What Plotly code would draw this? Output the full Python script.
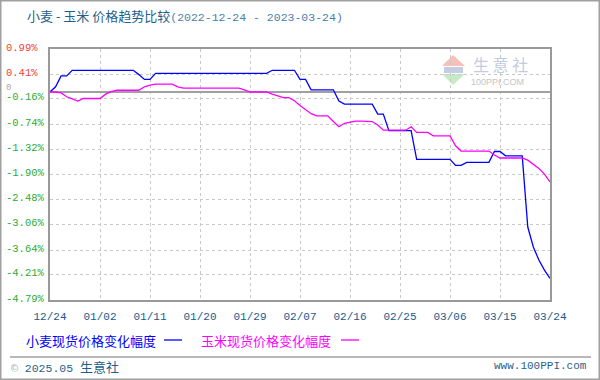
import pandas as pd
import plotly.graph_objects as go

start_date = "2022-12-24"
wheat = [0, 0.12, 0.37, 0.37, 0.50, 0.50, 0.50, 0.50, 0.50, 0.50,
         0.50, 0.50, 0.50, 0.50, 0.50, 0.50, 0.40, 0.29, 0.29, 0.43,
         0.43, 0.43, 0.43, 0.43, 0.43, 0.43, 0.43, 0.43, 0.43, 0.43,
         0.43, 0.43, 0.43, 0.43, 0.43, 0.43, 0.43, 0.43, 0.43, 0.43,
         0.50, 0.50, 0.50, 0.50, 0.50, 0.29, 0.29, 0.05, 0.05, 0.05,
         0.05, 0.05, -0.21, -0.28, -0.28, -0.28, -0.28, -0.28, -0.28, -0.51,
         -0.51, -0.89, -0.89, -0.89, -0.89, -0.89, -1.55, -1.55, -1.55, -1.55,
         -1.55, -1.55, -1.55, -1.69, -1.69, -1.62, -1.62, -1.62, -1.62, -1.62,
         -1.37, -1.37, -1.47, -1.47, -1.47, -1.47, -3.11, -3.57, -3.87, -4.10,
         -4.29]
corn = [0, 0, -0.02, -0.11, -0.16, -0.21, -0.15, -0.15, -0.15, -0.15,
        -0.05, 0.01, 0.04, 0.04, 0.04, 0.04, 0.04, 0.12, 0.16, 0.18,
        0.18, 0.18, 0.18, 0.12, 0.09, 0.09, 0.09, 0.09, 0.09, 0.09,
        0.09, 0.09, 0.09, 0.09, 0.09, 0.05, 0.0, 0.0, 0.0, 0.0,
        -0.05, -0.09, -0.13, -0.13, -0.20, -0.31, -0.41, -0.50, -0.55, -0.55,
        -0.55, -0.68, -0.80, -0.72, -0.70, -0.67, -0.67, -0.67, -0.68, -0.76,
        -0.88, -0.88, -0.88, -0.88, -0.88, -0.80, -0.93, -0.93, -0.93, -1.01,
        -1.01, -1.01, -1.01, -1.24, -1.36, -1.36, -1.36, -1.36, -1.36, -1.36,
        -1.45, -1.52, -1.52, -1.52, -1.52, -1.52, -1.57, -1.67, -1.76, -1.89,
        -2.07]
dates = pd.date_range(start_date, periods=len(wheat), freq="D")

x_tick_dates = ["2022-12-24", "2023-01-02", "2023-01-11", "2023-01-20", "2023-01-29",
                "2023-02-07", "2023-02-16", "2023-02-25", "2023-03-06", "2023-03-15",
                "2023-03-24"]
x_tick_labels = ["12/24", "01/02", "01/11", "01/20", "01/29", "02/07", "02/16",
                 "02/25", "03/06", "03/15", "03/24"]
y_tick_values = [0.99, 0.41, -0.16, -0.74, -1.32, -1.90, -2.48, -3.06, -3.64, -4.21, -4.79]
y_tick_labels = ["0.99%", "0.41%", "-0.16%", "-0.74%", "-1.32%", "-1.90%", "-2.48%",
                 "-3.06%", "-3.64%", "-4.21%", "-4.79%"]
series_names = ["小麦现货价格变化幅度", "玉米现货价格变化幅度"]
series_colors = ["#0000ff", "#ff00ff"]

W, H = 600, 380
L, R, T, B = 50, 50, 49, 80
PW, PH = W - L - R, H - T - B


def px(x):
    return (x - L) / PW


def py(y):
    return (H - B - y) / PH


MONO = "Liberation Mono, DejaVu Sans Mono, monospace"
CJK = "Noto Sans CJK SC, sans-serif"

fig = go.Figure()
for name, vals, col in zip(series_names, [wheat, corn], series_colors):
    fig.add_trace(go.Scatter(x=dates, y=vals, mode="lines", name=name,
                             line=dict(color=col, width=1.3), showlegend=False))

fig.update_layout(
    width=W, height=H,
    margin=dict(l=L, r=R, t=T, b=B, autoexpand=False),
    paper_bgcolor="white", plot_bgcolor="white",
    font=dict(family=MONO, size=11),
)
fig.update_xaxes(
    type="date", range=[x_tick_dates[0], x_tick_dates[-1]],
    tickvals=x_tick_dates, ticktext=x_tick_labels,
    tickfont=dict(family=MONO, size=11, color="#1a5a8a"),
    ticks="", ticklabelstandoff=5,
    showgrid=True, gridcolor="#c8c8c8", gridwidth=1, griddash="3px,3px",
    showline=True, mirror=True, linecolor="#999999", linewidth=1.5,
    zeroline=False,
)
fig.update_yaxes(
    range=[y_tick_values[-1], y_tick_values[0]],
    tickvals=y_tick_values, showticklabels=False, ticks="",
    showgrid=True, gridcolor="#c8c8c8", gridwidth=1, griddash="3px,3px",
    showline=True, mirror=True, linecolor="#999999", linewidth=1.5,
    zeroline=True, zerolinecolor="#a0a0a0", zerolinewidth=1.5,
)

ann = []
# y tick labels (left aligned, coloured by sign)
for v, t in zip(y_tick_values, y_tick_labels):
    col = "#f03c3c" if v > 0 else "#2eaa2e"
    ann.append(dict(xref="paper", yref="y", x=px(4), y=v, yshift=1.5, text=t,
                    showarrow=False, xanchor="left", yanchor="middle",
                    font=dict(family=MONO, size=10.5, color=col)))
ann.append(dict(xref="paper", yref="y", x=px(4), y=0, yshift=4, text="0",
                showarrow=False, xanchor="left", yanchor="middle",
                font=dict(family=MONO, size=9, color="#aaaaaa")))
# title
ann.append(dict(xref="paper", yref="paper", x=px(25), y=py(16), showarrow=False,
                xanchor="left", yanchor="middle",
                text=("<span style='color:#1f5f8b'>小麦 - 玉米 价格趋势比较</span>"
                      "<span style='color:#4a80ad;font-family:Liberation Mono;font-size:11.5px'>"
                      "(2022-12-24 - 2023-03-24)</span>"),
                font=dict(family=CJK, size=13, color="#1f5f8b")))
# legend
ann.append(dict(xref="paper", yref="paper", x=px(24), y=py(340), showarrow=False,
                xanchor="left", yanchor="middle", text=series_names[0],
                font=dict(family=CJK, size=13, color=series_colors[0])))
ann.append(dict(xref="paper", yref="paper", x=px(199), y=py(340), showarrow=False,
                xanchor="left", yanchor="middle", text=series_names[1],
                font=dict(family=CJK, size=13, color=series_colors[1])))
# footer
ann.append(dict(xref="paper", yref="paper", x=px(9), y=py(366), showarrow=False,
                xanchor="left", yanchor="middle",
                text="<span style='color:#9ab0c8'>©</span> 2025.05 <span style='font-family:Noto Sans CJK SC;font-size:13px'>生意社</span>",
                font=dict(family=MONO, size=11.5, color="#1f5f8b")))
ann.append(dict(xref="paper", yref="paper", x=px(589), y=py(366), showarrow=False,
                xanchor="right", yanchor="middle", text="www.100PPI.com",
                font=dict(family=MONO, size=11, color="#1f5f8b")))
# watermark text
ann.append(dict(xref="paper", yref="paper", x=px(500), y=py(64), showarrow=False,
                xanchor="center", yanchor="middle", text="生 意 社",
                font=dict(family=CJK, size=16, color="#c3cbe0")))
ann.append(dict(xref="paper", yref="paper", x=px(497), y=py(82), showarrow=False,
                xanchor="center", yanchor="middle", text="100PPI.COM",
                font=dict(family="Liberation Sans, Arial", size=9, color="#c4c4c4")))
fig.update_layout(annotations=ann)

shapes = []
# legend line samples
shapes.append(dict(type="line", xref="paper", yref="paper", x0=px(164), x1=px(182),
                   y0=py(340), y1=py(340), line=dict(color=series_colors[0], width=1.3)))
shapes.append(dict(type="line", xref="paper", yref="paper", x0=px(341), x1=px(359),
                   y0=py(340), y1=py(340), line=dict(color=series_colors[1], width=1.3)))
# footer separator
shapes.append(dict(type="line", xref="paper", yref="paper", x0=px(10), x1=px(591),
                   y0=py(357), y1=py(357), line=dict(color="#a0a0a0", width=1.5)))
# outer border
shapes.append(dict(type="rect", xref="paper", yref="paper", x0=px(0.75), x1=px(599.25),
                   y0=py(0.75), y1=py(379.25), line=dict(color="#a0a0a0", width=1.5)))
# watermark logo
def path(pts):
    return "M " + " L ".join(f"{px(a)},{py(b)}" for a, b in pts) + " Z"

shapes.append(dict(type="path", xref="paper", yref="paper", layer="below",
                   path=path([(453, 55), (465, 66), (442, 66)]),
                   fillcolor="#f6c0ba", line=dict(width=0)))
shapes.append(dict(type="rect", xref="paper", yref="paper", layer="below",
                   x0=px(444), x1=px(463), y0=py(67), y1=py(73),
                   fillcolor="#c5cde2", line=dict(width=0)))
shapes.append(dict(type="path", xref="paper", yref="paper", layer="below",
                   path=path([(442, 74), (465, 74), (453, 85)]),
                   fillcolor="#c4ecc4", line=dict(width=0)))
fig.update_layout(shapes=shapes)

fig.write_html("out.html", config={"displayModeBar": False},
               post_script="document.body.style.margin='0';document.body.style.overflow='hidden';")
